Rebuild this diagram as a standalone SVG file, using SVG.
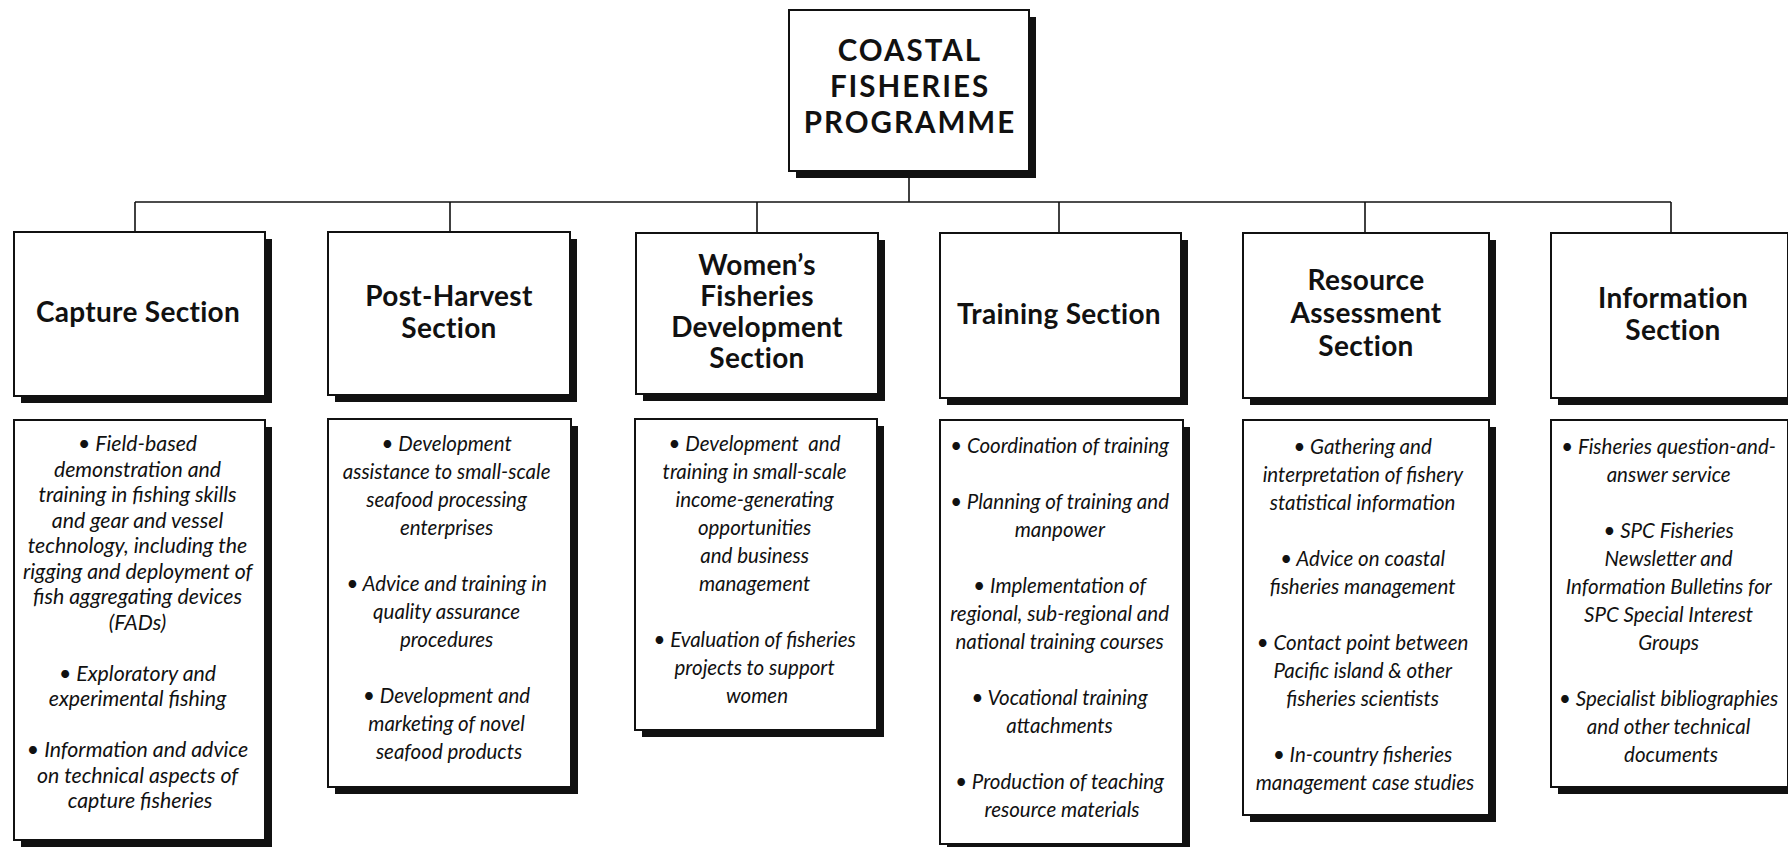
<svg xmlns="http://www.w3.org/2000/svg" width="1788" height="847" viewBox="0 0 1788 847">
  <style>
    .shadow { fill: #111; }
    .box { fill: #fff; stroke: #111; stroke-width: 2; }
    .title { font-family: Lato, "Liberation Sans", sans-serif; font-weight: bold; font-size: 29.5px; letter-spacing: 2px; fill: #111; text-anchor: middle; }
    .hd { font-family: Lato, "Liberation Sans", sans-serif; font-weight: bold; font-size: 28px; letter-spacing: 0.3px; fill: #111; text-anchor: middle; }
    .it { font-family: Lato, "Liberation Sans", sans-serif; font-style: italic; font-size: 20.5px; fill: #111; text-anchor: middle; }
    .it.wide { font-size: 21.3px; }
    .conn { fill: none; stroke: #111; stroke-width: 1.6; }
  </style>

  <rect width="1788" height="847" fill="#fff"/>

  <!-- connectors -->
  <g id="connectors" class="conn">
    <line x1="909" y1="171" x2="909" y2="202"/>
    <line x1="135" y1="202" x2="1671" y2="202"/>
    <line x1="135" y1="202" x2="135" y2="232"/>
    <line x1="450" y1="202" x2="450" y2="232"/>
    <line x1="757" y1="202" x2="757" y2="233"/>
    <line x1="1059" y1="202" x2="1059" y2="233"/>
    <line x1="1365" y1="202" x2="1365" y2="233"/>
    <line x1="1671" y1="202" x2="1671" y2="233"/>
  </g>

  <!-- programme head -->
  <g id="programme">
    <rect class="shadow" x="796" y="17" width="240" height="161"/>
    <rect class="box" x="789" y="10" width="240" height="161"/>
    <text class="title"><tspan x="910" y="61">COASTAL</tspan><tspan x="910" y="97">FISHERIES</tspan><tspan x="910" y="133">PROGRAMME</tspan></text>
  </g>

  <!-- section heads -->
  <g id="capture">
    <rect class="shadow" x="21" y="239" width="251" height="164"/>
    <rect class="box" x="14" y="232" width="251" height="164"/>
    <text class="hd" x="138" y="322">Capture Section</text>
  </g>
  <g id="post-harvest">
    <rect class="shadow" x="335" y="239" width="242" height="163"/>
    <rect class="box" x="328" y="232" width="242" height="163"/>
    <text class="hd"><tspan x="449" y="306">Post-Harvest</tspan><tspan x="449" y="338">Section</tspan></text>
  </g>
  <g id="womens">
    <rect class="shadow" x="643" y="240" width="242" height="161"/>
    <rect class="box" x="636" y="233" width="242" height="161"/>
    <text class="hd"><tspan x="757" y="275">Women’s</tspan><tspan x="757" y="306">Fisheries</tspan><tspan x="757" y="337">Development</tspan><tspan x="757" y="368">Section</tspan></text>
  </g>
  <g id="training">
    <rect class="shadow" x="947" y="240" width="241" height="165"/>
    <rect class="box" x="940" y="233" width="241" height="165"/>
    <text class="hd" x="1059" y="324">Training Section</text>
  </g>
  <g id="resource">
    <rect class="shadow" x="1250" y="240" width="246" height="165"/>
    <rect class="box" x="1243" y="233" width="246" height="165"/>
    <text class="hd"><tspan x="1366" y="290">Resource</tspan><tspan x="1366" y="323">Assessment</tspan><tspan x="1366" y="356">Section</tspan></text>
  </g>
  <g id="information">
    <rect class="shadow" x="1558" y="240" width="238" height="165"/>
    <rect class="box" x="1551" y="233" width="237" height="165"/>
    <text class="hd"><tspan x="1673" y="308">Information</tspan><tspan x="1673" y="340">Section</tspan></text>
  </g>

  <!-- activity lists -->
  <g id="capture-tasks">
    <rect class="shadow" x="21" y="427" width="251" height="420"/>
    <rect class="box" x="14" y="420" width="251" height="420"/>
    <text class="it wide">
      <tspan x="140" y="451">• Field-based</tspan>
      <tspan x="140" y="476.5">demonstration and</tspan>
      <tspan x="140" y="502">training in fishing skills</tspan>
      <tspan x="140" y="527.5">and gear and vessel</tspan>
      <tspan x="140" y="553">technology, including the</tspan>
      <tspan x="140" y="578.5">rigging and deployment of</tspan>
      <tspan x="140" y="604">fish aggregating devices</tspan>
      <tspan x="140" y="629.5">(FADs)</tspan>
      <tspan x="140" y="680.5">• Exploratory and</tspan>
      <tspan x="140" y="706">experimental fishing</tspan>
      <tspan x="140" y="757">• Information and advice</tspan>
      <tspan x="140" y="782.5">on technical aspects of</tspan>
      <tspan x="140" y="808">capture fisheries</tspan>
    </text>
  </g>
  <g id="post-harvest-tasks">
    <rect class="shadow" x="335" y="426" width="243" height="368"/>
    <rect class="box" x="328" y="419" width="243" height="368"/>
    <text class="it">
      <tspan x="449" y="451">• Development</tspan>
      <tspan x="449" y="479">assistance to small-scale</tspan>
      <tspan x="449" y="507">seafood processing</tspan>
      <tspan x="449" y="535">enterprises</tspan>
      <tspan x="449" y="591">• Advice and training in</tspan>
      <tspan x="449" y="619">quality assurance</tspan>
      <tspan x="449" y="647">procedures</tspan>
      <tspan x="449" y="703">• Development and</tspan>
      <tspan x="449" y="731">marketing of novel</tspan>
      <tspan x="449" y="759">seafood products</tspan>
    </text>
  </g>
  <g id="womens-tasks">
    <rect class="shadow" x="642" y="426" width="242" height="311"/>
    <rect class="box" x="635" y="419" width="242" height="311"/>
    <text class="it">
      <tspan x="757" y="451">• Development&#160; and</tspan>
      <tspan x="757" y="479">training in small-scale</tspan>
      <tspan x="757" y="507">income-generating</tspan>
      <tspan x="757" y="535">opportunities</tspan>
      <tspan x="757" y="563">and business</tspan>
      <tspan x="757" y="591">management</tspan>
      <tspan x="757" y="647">• Evaluation of fisheries</tspan>
      <tspan x="757" y="675">projects to support</tspan>
      <tspan x="757" y="703">women</tspan>
    </text>
  </g>
  <g id="training-tasks">
    <rect class="shadow" x="947" y="427" width="243" height="424"/>
    <rect class="box" x="940" y="420" width="243" height="424"/>
    <text class="it">
      <tspan x="1062" y="453">• Coordination of training</tspan>
      <tspan x="1062" y="509">• Planning of training and</tspan>
      <tspan x="1062" y="537">manpower</tspan>
      <tspan x="1062" y="593">• Implementation of</tspan>
      <tspan x="1062" y="621">regional, sub-regional and</tspan>
      <tspan x="1062" y="649">national training courses</tspan>
      <tspan x="1062" y="705">• Vocational training</tspan>
      <tspan x="1062" y="733">attachments</tspan>
      <tspan x="1062" y="789">• Production of teaching</tspan>
      <tspan x="1062" y="817">resource materials</tspan>
    </text>
  </g>
  <g id="resource-tasks">
    <rect class="shadow" x="1250" y="427" width="246" height="395"/>
    <rect class="box" x="1243" y="420" width="246" height="395"/>
    <text class="it">
      <tspan x="1365" y="454">• Gathering and</tspan>
      <tspan x="1365" y="482">interpretation of fishery</tspan>
      <tspan x="1365" y="510">statistical information</tspan>
      <tspan x="1365" y="566">• Advice on coastal</tspan>
      <tspan x="1365" y="594">fisheries management</tspan>
      <tspan x="1365" y="650">• Contact point between</tspan>
      <tspan x="1365" y="678">Pacific island &amp; other</tspan>
      <tspan x="1365" y="706">fisheries scientists</tspan>
      <tspan x="1365" y="762">• In-country fisheries</tspan>
      <tspan x="1365" y="790">management case studies</tspan>
    </text>
  </g>
  <g id="information-tasks">
    <rect class="shadow" x="1558" y="427" width="238" height="367"/>
    <rect class="box" x="1551" y="420" width="237" height="367"/>
    <text class="it">
      <tspan x="1671" y="454">• Fisheries question-and-</tspan>
      <tspan x="1671" y="482">answer service</tspan>
      <tspan x="1671" y="538">• SPC Fisheries</tspan>
      <tspan x="1671" y="566">Newsletter and</tspan>
      <tspan x="1671" y="594">Information Bulletins for</tspan>
      <tspan x="1671" y="622">SPC Special Interest</tspan>
      <tspan x="1671" y="650">Groups</tspan>
      <tspan x="1671" y="706">• Specialist bibliographies</tspan>
      <tspan x="1671" y="734">and other technical</tspan>
      <tspan x="1671" y="762">documents</tspan>
    </text>
  </g>
</svg>
